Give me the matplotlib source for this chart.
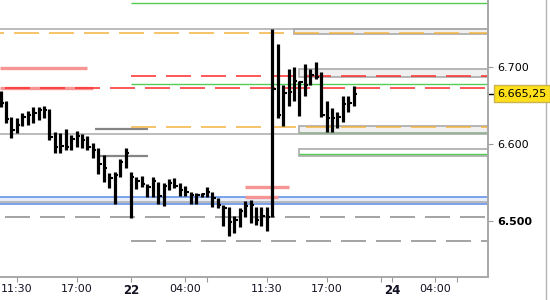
import matplotlib
matplotlib.use('Agg')
import matplotlib.pyplot as plt
import matplotlib.transforms as mtransforms
from matplotlib.patches import Rectangle
from matplotlib.lines import Line2D

plt.rcParams['lines.scale_dashes'] = False
plt.rcParams['font.family'] = 'DejaVu Sans'

# 30 minute OHLC bars, x = bar number
highs = [6.669, 6.656, 6.635, 6.634, 6.641, 6.643, 6.648, 6.648, 6.649, 6.645,
         6.616, 6.615, 6.620, 6.612, 6.617, 6.613, 6.611, 6.602, 6.595, 6.586,
         6.563, 6.564, 6.581, 6.595, 6.564, 6.558, 6.559, 6.549, 6.557, 6.551,
         6.550, 6.555, 6.556, 6.550, 6.546, 6.538, 6.537, 6.537, 6.545, 6.538,
         6.530, 6.521, 6.519, 6.507, 6.517, 6.526, 6.528, 6.519, 6.519, 6.519,
         6.749, 6.730, 6.677, 6.698, 6.700, 6.682, 6.704, 6.698, 6.706, 6.694,
         6.656, 6.647, 6.642, 6.662, 6.662, 6.675]
lows = [6.648, 6.628, 6.608, 6.615, 6.623, 6.625, 6.628, 6.631, 6.634, 6.605,
        6.589, 6.589, 6.593, 6.592, 6.597, 6.595, 6.592, 6.582, 6.562, 6.551,
        6.543, 6.523, 6.558, 6.569, 6.504, 6.542, 6.544, 6.532, 6.531, 6.523,
        6.520, 6.541, 6.543, 6.533, 6.533, 6.523, 6.523, 6.531, 6.531, 6.519,
        6.517, 6.494, 6.481, 6.485, 6.493, 6.506, 6.498, 6.495, 6.494, 6.488,
        6.506, 6.634, 6.624, 6.650, 6.656, 6.637, 6.663, 6.677, 6.685, 6.635,
        6.616, 6.616, 6.621, 6.629, 6.642, 6.650]
closes = [6.653, 6.633, 6.618, 6.625, 6.635, 6.638, 6.640, 6.644, 6.644, 6.609,
          6.596, 6.598, 6.596, 6.607, 6.611, 6.605, 6.596, 6.593, 6.574, 6.569,
          6.556, 6.560, 6.577, 6.589, 6.558, 6.552, 6.548, 6.545, 6.552, 6.533,
          6.546, 6.550, 6.546, 6.541, 6.538, 6.534, 6.534, 6.535, 6.538, 6.530,
          6.521, 6.517, 6.499, 6.502, 6.513, 6.520, 6.521, 6.502, 6.507, 6.506,
          6.672, 6.638, 6.666, 6.667, 6.682, 6.681, 6.677, 6.690, 6.687, 6.638,
          6.634, 6.634, 6.635, 6.652, 6.653, 6.66525]
last_price = 6.66525
last_label = '6.665,25'

time_ticks = [3, 14, 24, 34, 49, 60, 72, 80]
time_labels = ['11:30', '17:00', '22', '04:00', '11:30', '17:00', '24', '04:00']
day_labels = ['22', '24']
minor_ticks = [38, 70, 84]
price_ticks = [6.5, 6.6, 6.7]
price_labels = ['6.500', '6.600', '6.700']

x_left, x_right = -0.1, 89.62
y_low, y_high = 6.4284, 6.7868

# levels (price, first bar); None = from left edge
gray_levels = [6.7496, 6.6128, 6.5255]
orange_levels = [6.7437, 6.6219]
orange_from = [None, 24]
red_levels = [6.6724, 6.6880]
red_from = [None, 24]
green_levels = [6.7825, 6.6776]
green_from = [24, 24]
graydash_levels = [6.5053, 6.4746]
graydash_from = [None, 24]
blue_band = [6.5226, 6.5312]

salmon_levels = [6.6983, 6.6724, 6.5450, 6.5312]
salmon_from = [None, None, 45, 45]
salmon_to = [16, 17.1, 53, 51]
darkgray_levels = [6.6200, 6.5848]
darkgray_from = [17.3, 18.2]
darkgray_to = [27.2, 27.2]

box_low = [6.7428, 6.6874, 6.6141, 6.5847]
box_high = [6.7496, 6.6970, 6.6236, 6.5934]
box_from = [54.0, 54.9, 54.9, 54.9]
box_green = [None, None, 6.6145, 6.5877]

fig = plt.figure(figsize=(5.5, 3), dpi=100)
ax = fig.add_axes([0, 1 - 276.7 / 300, 487.6 / 550, 276.7 / 300])
ax.set_xlim(x_left, x_right)
ax.set_ylim(y_low, y_high)

dash = (18, 7.2)

def start(s):
    return x_left if s is None else s

# band and boxes
ax.fill_between([x_left, x_right], blue_band[0], blue_band[1], color='#e6eefb', zorder=1, lw=0)
for y in blue_band:
    ax.hlines(y, x_left, x_right, color='#5a8ae8', lw=1.1, zorder=2)
for lo, hi, x0, g in zip(box_low, box_high, box_from, box_green):
    fc = '#f0f0f0' if g != 6.5877 else 'white'
    ax.add_patch(Rectangle((x0, lo), x_right + 2 - x0, hi - lo, fc=fc, ec='#aaaaaa', lw=1.2, zorder=1))
    if g is not None:
        ax.hlines(g, x0, x_right, color='#55cc55', lw=1, zorder=2)

for y in gray_levels:
    ax.hlines(y, x_left, x_right, color='#aaaaaa', lw=1.1, zorder=2)
for y, s in zip(green_levels, green_from):
    ax.hlines(y, start(s), x_right, color='#55cc55', lw=1, zorder=2)
for y, s in zip(salmon_levels, salmon_from, ):
    pass
for y, s, e in zip(salmon_levels, salmon_from, salmon_to):
    ax.hlines(y, start(s), e, color='#f79595', lw=2.4, zorder=2)
for y, s, e in zip(darkgray_levels, darkgray_from, darkgray_to):
    ax.hlines(y, s, e, color='#858585', lw=1.6, zorder=2)

def dashed(levels, froms, color, lw, off_left):
    for y, s in zip(levels, froms):
        off = off_left if s is None else 0
        ax.plot([start(s), x_right], [y, y], color=color, lw=lw,
                linestyle=(off, dash), zorder=2.5)

dashed(orange_levels, orange_from, '#f5b342', 1.1, 15.1)
dashed(red_levels, red_from, '#ff2a2a', 1.1, 21.6)
dashed(graydash_levels, graydash_from, '#8a8a8a', 1.1, 21.6)

# OHLC bars
xs = list(range(len(highs)))
ax.vlines(xs, lows, highs, color='black', lw=2.3, zorder=3)
ax.hlines(closes, xs, [x + 0.62 for x in xs], color='black', lw=1.5, zorder=3)

# axes styling
for side in ['top', 'left']:
    ax.spines[side].set_visible(False)
for side in ['right', 'bottom']:
    ax.spines[side].set_color('#a8a8a8')
    ax.spines[side].set_linewidth(1.4)

ax.yaxis.tick_right()
ax.set_yticks(price_ticks)
ax.set_yticklabels(price_labels)
ax.tick_params(axis='y', length=3.6, width=0.8, color='#999999', pad=3, labelsize=8)
for t in ax.get_yticklabels():
    if t.get_text() == '6.500':
        t.set_fontweight('bold')

ax.set_xticks(time_ticks)
ax.set_xticklabels(time_labels)
ax.set_xticks(minor_ticks, minor=True)
ax.tick_params(axis='x', which='both', length=3.6, width=0.8, color='#999999', pad=2,
               labelsize=8, labelcolor='#111122')
for t in ax.get_xticklabels():
    if t.get_text() in day_labels:
        t.set_fontweight('bold')
        t.set_fontsize(8.5)

# last price marker
blend = mtransforms.blended_transform_factory(ax.transAxes, ax.transData)
ax.add_line(Line2D([1.0, 1.0 + 5 / 487.6], [last_price, last_price], color='black', lw=1,
                   transform=blend, clip_on=False))
ax.text(1.0205, last_price, last_label, transform=blend, ha='left', va='center', fontsize=8,
        color='black', clip_on=False,
        bbox=dict(boxstyle='square,pad=0.32', fc='#ffe01a', ec='#c9b452', lw=1))

fig.add_artist(Line2D([545.5 / 550] * 2, [0, 1], color='#b4b4b4', lw=1, zorder=-1))

fig.savefig('out.png', dpi=100)
